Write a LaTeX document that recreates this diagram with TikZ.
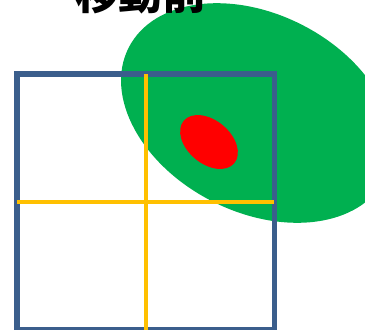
\documentclass[tikz,border=0pt]{standalone}
\usepackage{fontspec}
\newfontfamily\cjkfont{Noto Sans CJK JP}
\definecolor{boxblue}{HTML}{3B5E8C}
\definecolor{gridyellow}{HTML}{FFC000}
\definecolor{blobgreen}{HTML}{00B050}
\definecolor{spotred}{HTML}{FF0000}
\begin{document}
\begin{tikzpicture}[x = 1pt, y = -1pt]
        \useasboundingbox (0,0) rectangle (365,330);
        \clip (0,0) rectangle (365,330);
        \fill[blobgreen, rotate around = {-27:(257,113)}] (257,113) ellipse [x radius = 144, y radius = 99];
        \fill[spotred, rotate around = {-40:(209,142)}] (209,142) ellipse [x radius = 33, y radius = 21.7];
        \draw[boxblue, line width = 5.5pt] (17.2,74.2) rectangle (274.5,330);
        \draw[gridyellow, line width = 4pt] (145.7,74) -- (145.7,332);
        \draw[gridyellow, line width = 4pt] (17.2,201.7) -- (274,201.7);
        \node (title) at (141,9.5) [anchor = base, font = \cjkfont\bfseries\fontsize{44}{50}\selectfont, inner sep = 0pt] {移動前};
    \end{tikzpicture}
\end{document}
